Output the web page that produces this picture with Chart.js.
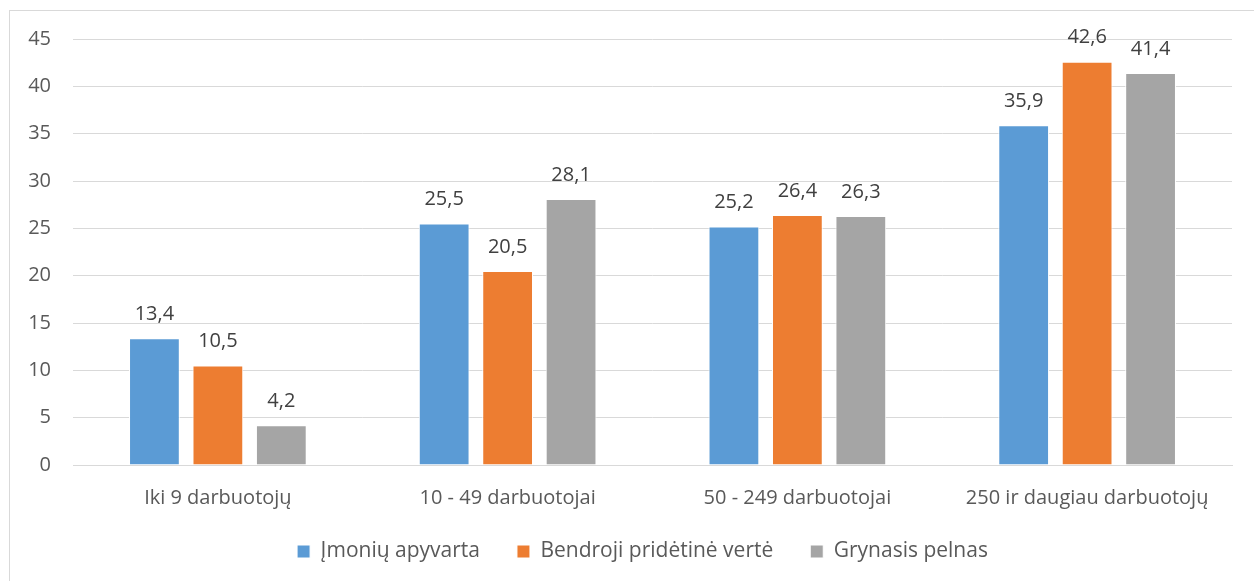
<!DOCTYPE html>
<html>
<head>
<meta charset="utf-8">
<script src="https://cdn.jsdelivr.net/npm/chart.js@4.4.1/dist/chart.umd.min.js"></script>
<style>
html,body{margin:0;padding:0;background:#fff;}
#wrap{width:1254px;height:581px;position:relative;}
</style>
</head>
<body>
<div id="wrap"><canvas id="c" width="1254" height="581"></canvas></div>
<script>
const categories = ["Iki 9 darbuotojų", "10 - 49 darbuotojai", "50 - 249 darbuotojai", "250 ir daugiau darbuotojų"];
const seriesNames = ["Įmonių apyvarta", "Bendroji pridėtinė vertė", "Grynasis pelnas"];
const apyvarta = [13.4, 25.5, 25.2, 35.9];
const pridetineVerte = [10.5, 20.5, 26.4, 42.6];
const grynasisPelnas = [4.2, 28.1, 26.3, 41.4];
const seriesColors = ["#5B9BD5", "#ED7D31", "#A5A5A5"];
const yTicks = [0, 5, 10, 15, 20, 25, 30, 35, 40, 45];

const FONT = "'Open Sans', sans-serif";

const frame = {
  id: 'frame',
  beforeDraw(chart) {
    const ctx = chart.ctx;
    ctx.save();
    ctx.fillStyle = '#fff';
    ctx.fillRect(0, 0, chart.width, chart.height);
    ctx.strokeStyle = '#d9d9d9';
    ctx.lineWidth = 1;
    ctx.strokeRect(9.5, 10.5, 1300, 700);
    ctx.restore();
  }
};

const legendShift = {
  id: 'legendShift',
  afterLayout(chart) {
    const lg = chart.legend;
    if (lg) {
      lg.left += 22;
      lg.right += 22;
      lg.top -= 9;
      lg.bottom -= 9;
    }
  }
};

const dataLabels = {
  id: 'dataLabels',
  afterDatasetsDraw(chart) {
    const ctx = chart.ctx;
    ctx.save();
    ctx.font = "20px " + FONT;
    ctx.fillStyle = '#404040';
    ctx.textAlign = 'center';
    ctx.textBaseline = 'middle';
    chart.data.datasets.forEach((ds, i) => {
      const meta = chart.getDatasetMeta(i);
      meta.data.forEach((el, j) => {
        const v = ds.data[j];
        ctx.fillText(v.toFixed(1).replace('.', ','), el.x, el.y - 24);
      });
    });
    ctx.restore();
  }
};

const datasets = [apyvarta, pridetineVerte, grynasisPelnas].map((d, i) => ({
  label: seriesNames[i],
  data: d,
  backgroundColor: seriesColors[i],
  borderColor: '#ffffff',
  borderWidth: 1,
  categoryPercentage: 0.657,
  barPercentage: 0.8
}));

new Chart(document.getElementById('c'), {
  type: 'bar',
  data: { labels: categories, datasets },
  options: {
    responsive: false,
    animation: false,
    devicePixelRatio: 1,
    layout: { padding: { left: 9, top: 39, right: 22, bottom: 0 } },
    plugins: {
      tooltip: { enabled: false },
      legend: {
        position: 'bottom',
        labels: {
          boxWidth: 13,
          boxHeight: 13,
          padding: 37,
          color: '#595959',
          font: { family: FONT, size: 21 }
        }
      }
    },
    scales: {
      x: {
        grid: { display: false },
        border: { display: true, color: '#d9d9d9', width: 1 },
        ticks: { color: '#595959', font: { family: FONT, size: 20 }, padding: 13, maxRotation: 0 },
        afterFit(scale) { scale.height = 48; }
      },
      y: {
        min: 0, max: 45,
        afterBuildTicks(scale) { scale.ticks = yTicks.map(v => ({ value: v })); },
        grid: { color: '#d9d9d9', lineWidth: 1, drawTicks: false },
        border: { display: false },
        ticks: { color: '#595959', font: { family: FONT, size: 20 }, padding: 22 },
        afterFit(scale) { scale.width = 64; }
      }
    }
  },
  plugins: [frame, legendShift, dataLabels]
});
</script>
</body>
</html>
